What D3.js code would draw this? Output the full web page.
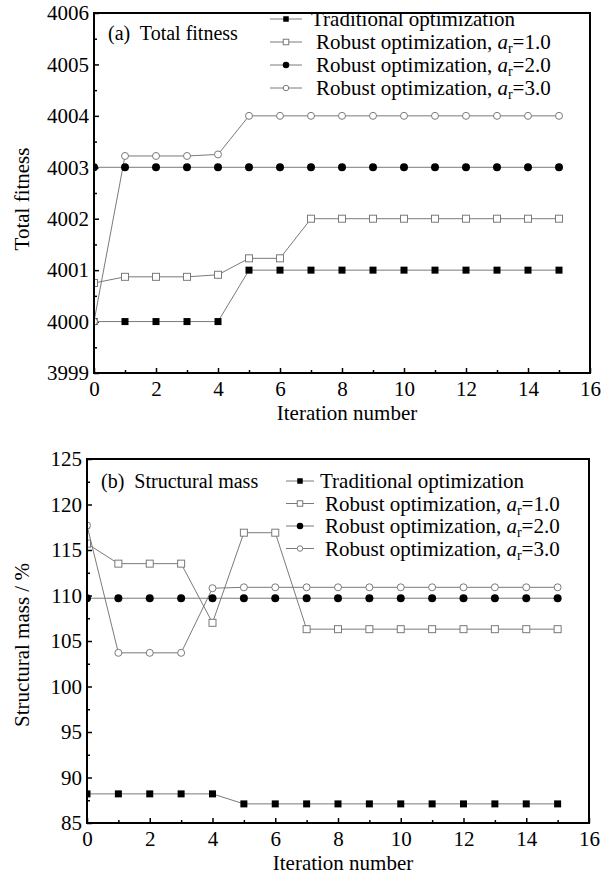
<!DOCTYPE html>
<html>
<head>
<meta charset="utf-8">
<script src="https://cdn.jsdelivr.net/npm/d3@7"></script>
<style>
body { margin: 0; background: #fff; }
text { font-family: "Liberation Serif", "Times New Roman", serif; fill: #000; }
</style>
</head>
<body>
<script>
// canvas size
var width = 610
var height = 878

// x values (iteration number)
const iterations = [0, 1, 2, 3, 4, 5, 6, 7, 8, 9, 10, 11, 12, 13, 14, 15]
const iterTicks = [0, 2, 4, 6, 8, 10, 12, 14, 16]

// legend entries: label before the italic a, the a_r value
const seriesLabels = ["Traditional optimization", "Robust optimization, ", "Robust optimization, ", "Robust optimization, "]
const seriesAr = [null, "1.0", "2.0", "3.0"]
const seriesMarkers = ["square-filled", "square-open", "circle-filled", "circle-open"]

// (a) total fitness
const fitnessTicks = [3999, 4000, 4001, 4002, 4003, 4004, 4005, 4006]
const fitTrad = [4000, 4000, 4000, 4000, 4000, 4001, 4001, 4001, 4001, 4001, 4001, 4001, 4001, 4001, 4001, 4001]
const fitR1 = [4000.75, 4000.87, 4000.87, 4000.87, 4000.91, 4001.23, 4001.23, 4002, 4002, 4002, 4002, 4002, 4002, 4002, 4002, 4002]
const fitR2 = [4003, 4003, 4003, 4003, 4003, 4003, 4003, 4003, 4003, 4003, 4003, 4003, 4003, 4003, 4003, 4003]
const fitR3 = [4000, 4003.22, 4003.22, 4003.22, 4003.25, 4004, 4004, 4004, 4004, 4004, 4004, 4004, 4004, 4004, 4004, 4004]

// (b) structural mass
const massTicks = [85, 90, 95, 100, 105, 110, 115, 120, 125]
const massTrad = [88.2, 88.2, 88.2, 88.2, 88.2, 87.1, 87.1, 87.1, 87.1, 87.1, 87.1, 87.1, 87.1, 87.1, 87.1, 87.1]
const massR1 = [115.7, 113.5, 113.5, 113.5, 107.0, 116.9, 116.9, 106.3, 106.3, 106.3, 106.3, 106.3, 106.3, 106.3, 106.3, 106.3]
const massR2 = [109.7, 109.7, 109.7, 109.7, 109.7, 109.7, 109.7, 109.7, 109.7, 109.7, 109.7, 109.7, 109.7, 109.7, 109.7, 109.7]
const massR3 = [117.7, 103.7, 103.7, 103.7, 110.8, 110.9, 110.9, 110.9, 110.9, 110.9, 110.9, 110.9, 110.9, 110.9, 110.9, 110.9]

const GREY = '#7a7a7a'
const FONT = 21

const svg = d3.select('body').append('svg')
  .attr('width', width)
  .attr('height', height)

// size = side of the square / diameter of the circle
function drawMarker(sel, type, cx, cy, size) {
  if (type.startsWith('square')) {
    sel.append('rect')
      .attr('x', cx - size / 2).attr('y', cy - size / 2)
      .attr('width', size).attr('height', size)
      .style('fill', type == 'square-filled' ? '#000' : '#fff')
      .style('stroke', type == 'square-filled' ? '#000' : GREY)
      .style('stroke-width', type == 'square-filled' ? 0 : 1)
  } else {
    sel.append('circle')
      .attr('cx', cx).attr('cy', cy)
      .attr('r', type == 'circle-filled' ? size / 2 + 0.5 : size / 2)
      .style('fill', type == 'circle-filled' ? '#000' : '#fff')
      .style('stroke', type == 'circle-filled' ? 'none' : GREY)
      .style('stroke-width', 1)
  }
}

function drawPanel(p, id) {
  var w = p.right - p.left, h = p.bottom - p.top
  var g = svg.append('g').attr('transform', 'translate(' + p.left + ',' + p.top + ')')

  var x = d3.scaleLinear().domain([0, 16]).range([0, w])
  var y = d3.scaleLinear().domain([p.yTicks[0], p.yTicks[p.yTicks.length - 1]]).range([h, 0])

  // minor + major ticks, pointing inward
  var step = p.yTicks[1] - p.yTicks[0]
  g.append('g').attr('transform', 'translate(0,' + h + ')')
    .call(d3.axisBottom(x).tickValues(d3.range(1, 16, 2)).tickSize(-3).tickFormat(''))
  g.append('g').attr('transform', 'translate(0,' + h + ')')
    .call(d3.axisBottom(x).tickValues(iterTicks).tickSize(-5).tickSizeOuter(0).tickPadding(8).tickFormat(d3.format('d')))
  g.append('g')
    .call(d3.axisLeft(y).tickValues(p.yTicks.slice(0, -1).map(d => d + step / 2)).tickSize(-3).tickFormat(''))
  g.append('g')
    .call(d3.axisLeft(y).tickValues(p.yTicks).tickSize(-5).tickSizeOuter(0).tickPadding(5).tickFormat(d3.format('d')))

  g.selectAll('.domain').remove()
  g.selectAll('.tick line').style('stroke', '#000').style('stroke-width', 1.5)
  g.selectAll('.tick text')
    .style('font-family', '"Liberation Serif", serif')
    .style('font-size', FONT + 'px')
    .style('fill', '#000')

  // plot area clip
  svg.append('clipPath').attr('id', 'clip' + id)
    .append('rect').attr('width', w).attr('height', h)
  var plot = g.append('g').attr('clip-path', 'url(#clip' + id + ')')

  var line = d3.line().x((d, i) => x(iterations[i])).y(d => y(d))
  p.series.forEach(function(s, k) {
    plot.append('path')
      .attr('d', line(s))
      .style('fill', 'none')
      .style('stroke', GREY)
      .style('stroke-width', 1)
  })
  p.series.forEach(function(s, k) {
    var mg = plot.append('g')
    s.forEach((d, i) => drawMarker(mg, seriesMarkers[k], x(iterations[i]), y(d), 7))
  })

  // frame
  g.append('rect')
    .attr('width', w).attr('height', h)
    .style('fill', 'none')
    .style('stroke', '#000')
    .style('stroke-width', 2)

  // panel title
  svg.append('text')
    .attr('x', p.left + 14).attr('y', p.titleY)
    .attr('xml:space', 'preserve')
    .style('font-size', '20px')
    .text(p.title)

  // legend
  p.legendRows.forEach(function(ry, k) {
    svg.append('line')
      .attr('x1', p.legendX0).attr('x2', p.legendX1)
      .attr('y1', ry).attr('y2', ry)
      .style('stroke', GREY).style('stroke-width', 1)
    drawMarker(svg, seriesMarkers[k], (p.legendX0 + p.legendX1) / 2, ry, 5.5)
    var t = svg.append('text')
      .attr('x', p.legendTextX + (k == 0 ? 0 : 5))
      .attr('y', ry + 7)
      .style('font-size', FONT + 'px')
    t.append('tspan').text(seriesLabels[k])
    if (seriesAr[k]) {
      t.append('tspan').style('font-style', 'italic').text('a')
      t.append('tspan').attr('dy', 4).style('font-size', '14px').text('r')
      t.append('tspan').attr('dy', -4).text('=' + seriesAr[k])
    }
  })

  // axis titles
  svg.append('text')
    .attr('transform', 'translate(29,' + p.yTitleY + ') rotate(-90)')
    .attr('text-anchor', 'middle')
    .style('font-size', FONT + 'px')
    .text(p.yTitle)
  svg.append('text')
    .attr('x', (p.left + p.right) / 2 + 5)
    .attr('y', p.bottom + 47)
    .attr('text-anchor', 'middle')
    .style('font-size', FONT + 'px')
    .text('Iteration number')
}

drawPanel({
  left: 94, top: 13, right: 590, bottom: 373,
  yTicks: fitnessTicks,
  series: [fitTrad, fitR1, fitR2, fitR3],
  title: '(a)  Total fitness', titleY: 40,
  yTitle: 'Total fitness', yTitleY: 199,
  legendX0: 270, legendX1: 302, legendTextX: 311,
  legendRows: [19, 42, 65, 88]
}, 'a')

drawPanel({
  left: 87, top: 459, right: 589, bottom: 823,
  yTicks: massTicks,
  series: [massTrad, massR1, massR2, massR3],
  title: '(b)  Structural mass', titleY: 488,
  yTitle: 'Structural mass / %', yTitleY: 645,
  legendX0: 286, legendX1: 314, legendTextX: 320,
  legendRows: [481, 503.5, 526, 548.5]
}, 'b')
</script>
</body>
</html>
